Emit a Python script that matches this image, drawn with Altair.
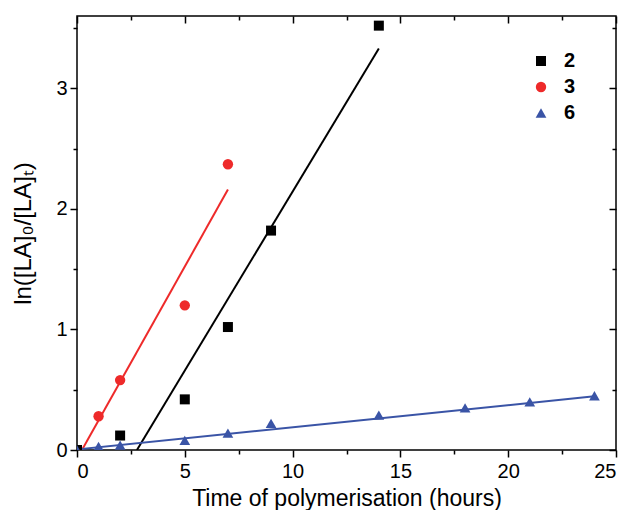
import altair as alt
import pandas as pd

series_names = ["2", "3", "6"]
series_colors = ["#000000", "#ee2a2a", "#3a54a6"]
series_shapes = ["square", "circle", "triangle-up"]
series_sizes = [100, 115, 145]

t2 = [0, 2, 5, 7, 9, 14]
y2 = [0.0, 0.12, 0.42, 1.02, 1.82, 3.52]
t3 = [1, 2, 5, 7]
y3 = [0.28, 0.58, 1.20, 2.37]
t6 = [0, 1, 2, 5, 7, 9, 14, 18, 21, 24]
y6 = [0.0, 0.03, 0.04, 0.08, 0.14, 0.22, 0.29, 0.35, 0.40, 0.45]

fit2_t = [2.78, 14.0]
fit2_y = [0.0, 3.33]
fit3_t = [0.23, 7.0]
fit3_y = [0.0, 2.16]
fit6_t = [0.0, 24.0]
fit6_y = [0.005, 0.445]

x_major = [0, 5, 10, 15, 20, 25]
x_minor = [2.5, 7.5, 12.5, 17.5, 22.5]
y_major = [0, 1, 2, 3]
y_minor = [0.5, 1.5, 2.5, 3.5]

pts = pd.DataFrame(
    [{"t": a, "v": b, "s": "2"} for a, b in zip(t2, y2)]
    + [{"t": a, "v": b, "s": "3"} for a, b in zip(t3, y3)]
    + [{"t": a, "v": b, "s": "6"} for a, b in zip(t6, y6)]
)
fits = pd.DataFrame(
    [{"t": a, "v": b, "s": "2"} for a, b in zip(fit2_t, fit2_y)]
    + [{"t": a, "v": b, "s": "3"} for a, b in zip(fit3_t, fit3_y)]
    + [{"t": a, "v": b, "s": "6"} for a, b in zip(fit6_t, fit6_y)]
)

FONT = "Liberation Sans"
xscale = alt.Scale(domain=[0, 25], nice=False, zero=False)
yscale = alt.Scale(domain=[0, 3.6], nice=False, zero=False)
cscale = alt.Scale(domain=series_names, range=series_colors)
sscale = alt.Scale(domain=series_names, range=series_shapes)
zscale = alt.Scale(domain=series_names, range=series_sizes)

common_axis = dict(grid=False, domain=False, tickColor="black", tickWidth=1.5)

x_bottom = alt.Axis(orient="bottom", values=x_major, tickSize=7, labelFontSize=20,
                    labelFont=FONT, labelColor="black", labelPadding=4, format="d",
                    title="Time of polymerisation (hours)", titleFont=FONT,
                    titleFontSize=23, titleFontWeight="normal", titleColor="black",
                    titlePadding=6, **common_axis)
y_left = alt.Axis(orient="left", values=y_major, tickSize=7, labelFontSize=20,
                  labelFont=FONT, labelColor="black", labelPadding=3, format="d",
                  title="ln([LA]₀/[LA]ₜ)", titleFont=FONT, titleFontSize=24,
                  titleFontWeight="normal", titleColor="black", titlePadding=20,
                  **common_axis)
x_bottom_minor = alt.Axis(orient="bottom", values=x_minor, tickSize=4, labels=False,
                          title="", **common_axis)
y_left_minor = alt.Axis(orient="left", values=y_minor, tickSize=4, labels=False,
                        title="", **common_axis)
x_top = alt.Axis(orient="top", values=x_major, tickSize=7, offset=-7, labels=False,
                 title="", **common_axis)
y_right = alt.Axis(orient="right", values=y_major, tickSize=7, offset=-7, labels=False,
                   title="", **common_axis)
x_top_minor = alt.Axis(orient="top", values=x_minor, tickSize=4, offset=-4, labels=False,
                       title="", **common_axis)
y_right_minor = alt.Axis(orient="right", values=y_minor, tickSize=4, offset=-4,
                         labels=False, title="", **common_axis)


def fit_line(name, col):
    return alt.Chart(fits).transform_filter(alt.datum.s == name).mark_line(
        strokeWidth=2, clip=True, color=col
    ).encode(
        x=alt.X("t:Q", scale=xscale, axis=None),
        y=alt.Y("v:Q", scale=yscale, axis=None),
    )


leg = alt.Legend(title=None, orient="none", legendX=454, legendY=35, labelFont=FONT,
                 labelFontSize=20, labelFontWeight="bold", labelColor="black",
                 rowPadding=6, labelOffset=13, padding=0, symbolStrokeWidth=0)

points = alt.Chart(pts).mark_point(filled=True, opacity=1, clip=True).encode(
    x=alt.X("t:Q", scale=xscale, axis=x_bottom),
    y=alt.Y("v:Q", scale=yscale, axis=y_left),
    color=alt.Color("s:N", scale=cscale, legend=leg),
    shape=alt.Shape("s:N", scale=sscale, legend=leg),
    size=alt.Size("s:O", scale=zscale, legend=leg),
)


def tick_layer(xa, ya):
    return alt.Chart(pts).mark_point(opacity=0).encode(
        x=alt.X("t:Q", scale=xscale, axis=xa),
        y=alt.Y("v:Q", scale=yscale, axis=ya),
    )


chart = alt.layer(
    *[fit_line(n, c) for n, c in zip(series_names, series_colors)],
    points,
    tick_layer(x_bottom_minor, y_left_minor),
    tick_layer(x_top, y_right),
    tick_layer(x_top_minor, y_right_minor),
).resolve_axis(x="independent", y="independent").properties(
    width=539, height=434,
    padding={"left": 3, "top": 7, "right": 5, "bottom": 0},
).configure_view(stroke="black", strokeWidth=1.5)

chart.save("out.html", embed_options={"renderer": "svg", "actions": False})
